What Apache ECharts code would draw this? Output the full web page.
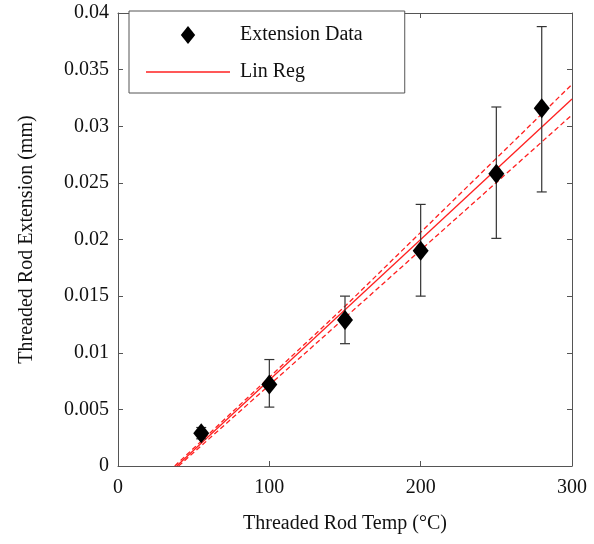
<!DOCTYPE html>
<html><head><meta charset="utf-8">
<script src="https://cdn.jsdelivr.net/npm/echarts@6/dist/echarts.min.js"></script>
<style>html,body{margin:0;padding:0;background:#fff}#c{width:594px;height:544px}</style>
</head><body><div id="c"></div>
<script>
const temps = [55, 100, 150, 200, 250, 280];
const extension = [0.0029, 0.0072, 0.0129, 0.0190, 0.0258, 0.0316];
const errLow = [0.0024, 0.0052, 0.0108, 0.0150, 0.0201, 0.0242];
const errHigh = [0.0034, 0.0094, 0.0150, 0.0231, 0.0317, 0.0388];
const regX = [38.8, 300];
const regY = [0, 0.0324];
const upperX = [37.5, 150, 300];
const upperY = [0, 0.0141, 0.0337];
const lowerX = [40, 150, 300];
const lowerY = [0, 0.0131, 0.0310];
const xTicks = [0, 100, 200, 300];
const yTicks = [0, 0.005, 0.01, 0.015, 0.02, 0.025, 0.03, 0.035, 0.04];

const font = 'Liberation Serif';
const axisCol = '#555';
const pts = temps.map((t, i) => [t, extension[i]]);
const errs = temps.map((t, i) => [t, errLow[i], errHigh[i]]);
const zip = (xs, ys) => xs.map((x, i) => [x, ys[i]]);
const diamondPath = 'path://M0,-10L8,0L0,10L-8,0Z';
const linePath = 'path://M0,0L84,0L84,1.4L0,1.4Z';

const chart = echarts.init(document.getElementById('c'), null, {renderer: 'canvas'});
const baseAxis = {
  axisLine: {show: true, onZero: false, lineStyle: {color: axisCol, width: 1}},
  axisTick: {show: true, inside: true, length: 5, lineStyle: {color: axisCol}},
  splitLine: {show: false}
};
chart.setOption({
  animation: false,
  backgroundColor: '#fff',
  grid: {left: 118, right: 22, top: 13, bottom: 78, containLabel: false},
  xAxis: [
    Object.assign({}, baseAxis, {type: 'value', min: 0, max: 300, interval: 100, position: 'bottom',
      name: 'Threaded Rod Temp (°C)', nameLocation: 'middle', nameGap: 48,
      nameTextStyle: {fontFamily: font, fontSize: 20, color: '#111'},
      axisLabel: {fontFamily: font, fontSize: 20, color: '#111', margin: 12,
        formatter: v => xTicks.includes(v) ? String(v) : ''}}),
    Object.assign({}, baseAxis, {type: 'value', min: 0, max: 300, interval: 100, position: 'top',
      axisLabel: {show: false}})
  ],
  yAxis: [
    Object.assign({}, baseAxis, {type: 'value', min: 0, max: 0.04, interval: 0.005, position: 'left',
      name: 'Threaded Rod Extension (mm)', nameLocation: 'middle', nameGap: 81,
      nameTextStyle: {fontFamily: font, fontSize: 20, color: '#111'},
      axisLabel: {fontFamily: font, fontSize: 20, color: '#111', margin: 9,
        formatter: v => { const t = yTicks.find(k => Math.abs(k - v) < 1e-9); return t === undefined ? '' : String(t); }}}),
    Object.assign({}, baseAxis, {type: 'value', min: 0, max: 0.04, interval: 0.005, position: 'right',
      axisLabel: {show: false}})
  ],
  legend: {
    left: 129, top: 11, orient: 'vertical',
    data: [{name: 'Extension Data', icon: diamondPath}, {name: 'Lin Reg', icon: linePath}],
    itemWidth: 84, itemHeight: 18, itemGap: 17,
    padding: [14, 42, 11, 17],
    borderColor: '#555', borderWidth: 1, backgroundColor: '#fff',
    textStyle: {fontFamily: font, fontSize: 20, color: '#111', padding: [0, 0, 0, 5]}
  },
  series: [
    {name: 'Upper', type: 'line', data: zip(upperX, upperY), symbol: 'none', silent: true,
      lineStyle: {color: '#ff2020', width: 1.3, type: [5, 3]}, z: 2},
    {name: 'Lower', type: 'line', data: zip(lowerX, lowerY), symbol: 'none', silent: true,
      lineStyle: {color: '#ff2020', width: 1.3, type: [5, 3]}, z: 2},
    {name: 'Lin Reg', type: 'line', data: zip(regX, regY), symbol: 'none',
      lineStyle: {color: '#ff2020', width: 1.3}, itemStyle: {color: '#ff2020'}, z: 3},
    {name: 'Errors', type: 'custom', data: errs, z: 4,
      renderItem: (params, api) => {
        const x = api.value(0);
        const lo = api.coord([x, api.value(1)]);
        const hi = api.coord([x, api.value(2)]);
        const cw = 5;
        const st = {stroke: '#333', lineWidth: 1.2};
        return {type: 'group', children: [
          {type: 'line', shape: {x1: lo[0], y1: lo[1], x2: hi[0], y2: hi[1]}, style: st},
          {type: 'line', shape: {x1: lo[0] - cw, y1: lo[1], x2: lo[0] + cw, y2: lo[1]}, style: st},
          {type: 'line', shape: {x1: hi[0] - cw, y1: hi[1], x2: hi[0] + cw, y2: hi[1]}, style: st}
        ]};
      }},
    {name: 'Extension Data', type: 'scatter', data: pts, symbol: 'diamond', symbolSize: [16, 20],
      itemStyle: {color: '#000', opacity: 1}, z: 5}
  ]
});
</script></body></html>
